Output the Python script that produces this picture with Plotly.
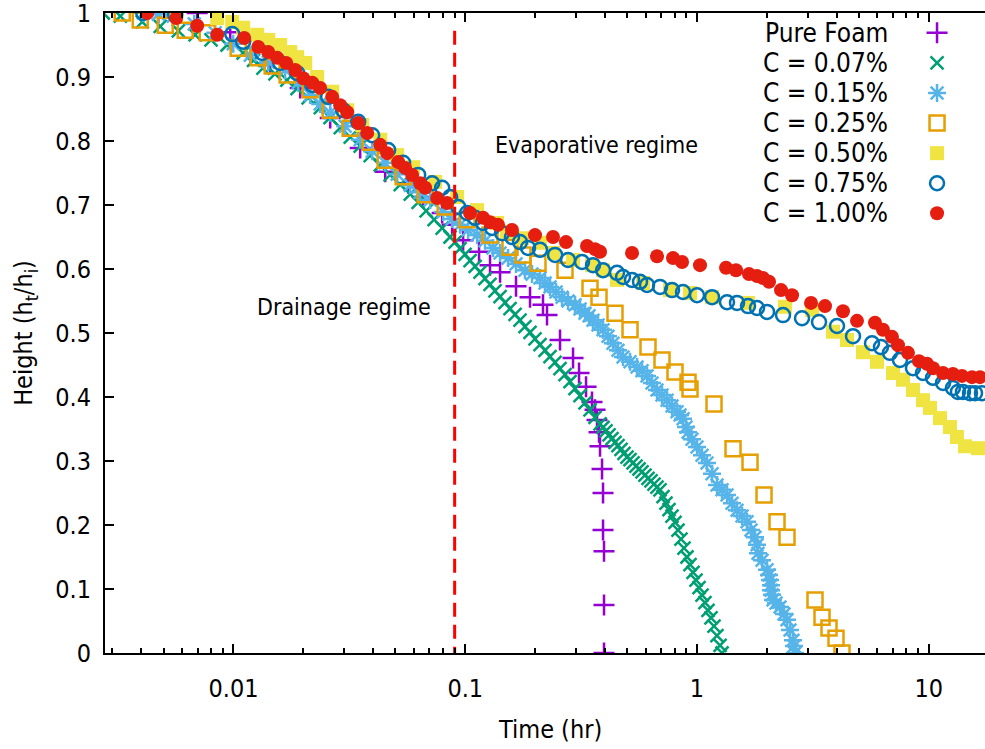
import math
import plotly.graph_objects as go

# ---------------- data (time in hr, height ht/hi) ----------------
pure_t = [0.004735, 0.006974, 0.00968, 0.0144, 0.0194, 0.02614, 0.03521, 0.04514, 0.05671, 0.06582,
          0.0795, 0.0878, 0.0979, 0.1147, 0.1279, 0.1413, 0.1656, 0.1903, 0.2165, 0.2253,
          0.2564, 0.2918, 0.3097, 0.3320, 0.3523, 0.3630, 0.3703, 0.3777, 0.3815, 0.3892,
          0.3930, 0.3930, 0.3969, 0.3969, 0.3969]
pure_h = [1.0, 1.0, 0.970, 0.923, 0.883, 0.836, 0.789, 0.752, 0.734, 0.7125,
          0.6875, 0.669, 0.645, 0.627, 0.606, 0.595, 0.573, 0.556, 0.544, 0.528,
          0.489, 0.461, 0.4375, 0.416, 0.392, 0.380, 0.364, 0.345, 0.323, 0.2875,
          0.250, 0.192, 0.159, 0.075, 0.0]

c007_t = [0.00274, 0.00325, 0.00404, 0.00483, 0.00578, 0.00683, 0.0080, 0.00938, 0.0110, 0.0122,
          0.0134, 0.0151, 0.0170, 0.0188, 0.0210, 0.0237, 0.0261, 0.0289, 0.0319, 0.0352,
          0.0389, 0.0430, 0.0474, 0.0524, 0.0579, 0.0626, 0.0678, 0.0734, 0.0795, 0.0860,
          0.0904, 0.0950, 0.0998, 0.1049, 0.1103, 0.1158, 0.1217, 0.1279, 0.1344, 0.1413,
          0.1485, 0.1560, 0.1640, 0.1723, 0.1811, 0.1903, 0.2000, 0.2102, 0.2209, 0.2321,
          0.2439, 0.2564, 0.2694, 0.2832, 0.2976, 0.3128, 0.3287, 0.3454, 0.3630, 0.3815,
          0.3930, 0.4049, 0.4171, 0.4297, 0.4427, 0.4561, 0.4699, 0.4840, 0.4987, 0.5140,
          0.5294, 0.5454, 0.5619, 0.5789, 0.5964, 0.6144, 0.6330, 0.6521, 0.6718, 0.6924,
          0.7133, 0.7348, 0.7570, 0.7799, 0.8035, 0.8278, 0.8528, 0.8786, 0.9051, 0.9328,
          0.9609, 0.9900, 1.020, 1.051, 1.082, 1.115, 1.149, 1.184, 1.219, 1.257, 1.282]
c007_h = [1.0, 0.995, 0.986, 0.979, 0.972, 0.966, 0.958, 0.950, 0.9375, 0.926,
          0.914, 0.905, 0.895, 0.882, 0.8675, 0.852, 0.8365, 0.821, 0.806, 0.792,
          0.777, 0.7625, 0.747, 0.732, 0.717, 0.704, 0.691, 0.677, 0.664, 0.650,
          0.642, 0.632, 0.623, 0.613, 0.604, 0.595, 0.585, 0.576, 0.566, 0.557,
          0.5475, 0.538, 0.529, 0.520, 0.510, 0.501, 0.491, 0.482, 0.473, 0.463,
          0.454, 0.4445, 0.435, 0.424, 0.413, 0.402, 0.391, 0.380, 0.368, 0.358,
          0.3525, 0.347, 0.341, 0.335, 0.329, 0.324, 0.318, 0.312, 0.306, 0.302,
          0.297, 0.292, 0.2875, 0.283, 0.278, 0.273, 0.269, 0.264, 0.259, 0.255,
          0.2445, 0.234, 0.224, 0.214, 0.204, 0.192, 0.178, 0.164, 0.150, 0.138,
          0.126, 0.114, 0.102, 0.0905, 0.0787, 0.0666, 0.0547, 0.042, 0.027, 0.012, 0.0]

c015_t = [0.00408, 0.004735, 0.005495, 0.006769, 0.00834, 0.00997, 0.01181, 0.01412, 0.01671, 0.01902,
          0.02143, 0.02366, 0.02614, 0.03034, 0.03521, 0.03967, 0.04514, 0.05084, 0.05785, 0.06389,
          0.07056, 0.08028, 0.0878, 0.0950, 0.1029, 0.1125, 0.1217, 0.1318, 0.1413, 0.1530,
          0.1656, 0.1811, 0.1941, 0.2102, 0.2209, 0.2321, 0.2464, 0.2616, 0.2776, 0.2976,
          0.3128, 0.3287, 0.3420, 0.3558, 0.3740, 0.3930, 0.4130, 0.4340, 0.4561, 0.4794,
          0.5140, 0.5510, 0.5790, 0.6085, 0.6395, 0.6720, 0.7063, 0.7423, 0.7801, 0.8198,
          0.8447, 0.8702, 0.8966, 0.9145, 0.9515, 1.0, 1.051, 1.104, 1.161, 1.220,
          1.282, 1.347, 1.416, 1.488, 1.564, 1.643, 1.710, 1.779, 1.815, 1.833,
          1.908, 2.005, 2.045, 2.065, 2.086, 2.086, 2.107, 2.127, 2.192, 2.281,
          2.373, 2.445, 2.519, 2.595, 2.621, 2.647]
c015_h = [1.0, 0.998, 0.995, 0.983, 0.969, 0.952, 0.934, 0.923, 0.911, 0.891,
          0.872, 0.858, 0.844, 0.823, 0.802, 0.784, 0.766, 0.748, 0.731, 0.720,
          0.708, 0.689, 0.678, 0.669, 0.661, 0.653, 0.644, 0.633, 0.625, 0.617,
          0.608, 0.598, 0.592, 0.586, 0.578, 0.572, 0.564, 0.556, 0.550, 0.544,
          0.5375, 0.531, 0.527, 0.520, 0.5125, 0.505, 0.495, 0.484, 0.473, 0.4625,
          0.455, 0.447, 0.441, 0.433, 0.422, 0.411, 0.403, 0.395, 0.386, 0.377,
          0.372, 0.366, 0.353, 0.345, 0.334, 0.322, 0.309, 0.297, 0.280, 0.2625,
          0.255, 0.247, 0.234, 0.223, 0.214, 0.205, 0.192, 0.181, 0.169, 0.156,
          0.145, 0.130, 0.122, 0.114, 0.106, 0.098, 0.091, 0.083, 0.078, 0.072,
          0.061, 0.052, 0.036, 0.020, 0.011, 0.0]

c025_t = [0.003311, 0.00396, 0.005076, 0.006191, 0.007703, 0.01048, 0.01279, 0.01469, 0.01704, 0.02143,
          0.02614, 0.03188, 0.03889, 0.04514, 0.05396, 0.06714, 0.0819, 0.1018, 0.1279, 0.1560,
          0.1775, 0.2060, 0.2694, 0.3454, 0.3777, 0.4427, 0.5140, 0.6145, 0.7063, 0.8036,
          0.9145, 0.9328, 1.184, 1.430, 1.693, 1.946, 2.214, 2.445, 3.229, 3.462,
          3.711, 3.978, 4.222]
c025_h = [1.0, 0.989, 0.981, 0.973, 0.969, 0.945, 0.930, 0.917, 0.903, 0.880,
          0.848, 0.820, 0.798, 0.770, 0.744, 0.716, 0.697, 0.677, 0.653, 0.634,
          0.622, 0.609, 0.598, 0.570, 0.556, 0.531, 0.505, 0.478, 0.458, 0.439,
          0.423, 0.4125, 0.389, 0.319, 0.298, 0.247, 0.205, 0.181, 0.083, 0.056,
          0.039, 0.023, 0.0]

c050_t = [0.005606, 0.008507, 0.009875, 0.01101, 0.01266, 0.01412, 0.0159, 0.01757, 0.01883, 0.02039,
          0.02297, 0.02667, 0.03095, 0.03592, 0.04295, 0.05084, 0.0596, 0.07415, 0.09227, 0.1125,
          0.1371, 0.1515, 0.1758, 0.2102, 0.2391, 0.2918, 0.3523, 0.3930, 0.4516, 0.5847,
          0.7647, 0.9328, 1.161, 1.660, 2.397, 3.135, 3.861, 4.437, 5.202, 5.977,
          7.006, 7.738, 8.547, 9.439, 10.12, 11.18, 12.34, 13.23, 14.32, 16.31]
c050_h = [1.0, 0.992, 0.986, 0.977, 0.966, 0.958, 0.950, 0.939, 0.931, 0.922,
          0.900, 0.877, 0.848, 0.825, 0.802, 0.778, 0.759, 0.736, 0.7125, 0.692,
          0.672, 0.658, 0.648, 0.641, 0.625, 0.614, 0.606, 0.598, 0.583, 0.578,
          0.567, 0.5625, 0.556, 0.547, 0.541, 0.536, 0.502, 0.489, 0.470, 0.455,
          0.4375, 0.427, 0.411, 0.395, 0.383, 0.367, 0.353, 0.3375, 0.323, 0.320]

c075_t = [0.00408, 0.005606, 0.009875, 0.01101, 0.0133, 0.0159, 0.01883, 0.02186, 0.02562, 0.02974,
          0.03452, 0.03967, 0.0465, 0.05396, 0.06263, 0.07198, 0.0795, 0.08607, 0.09319, 0.1018,
          0.1102, 0.1193, 0.1305, 0.1441, 0.1591, 0.1723, 0.1866, 0.2102, 0.2439, 0.2776,
          0.3191, 0.3558, 0.3930, 0.4516, 0.4794, 0.5243, 0.5676, 0.6085, 0.6924, 0.7801,
          0.8702, 1.0, 1.161, 1.347, 1.488, 1.660, 1.815, 2.005, 2.350, 2.838,
          3.360, 4.018, 4.710, 5.688, 6.220, 6.801, 7.511, 8.547, 9.439, 10.43,
          11.52, 12.71, 13.36, 14.04, 15.06, 15.83, 16.96]
c075_h = [1.0, 0.997, 0.967, 0.955, 0.9375, 0.922, 0.906, 0.8875, 0.869, 0.848,
          0.830, 0.809, 0.786, 0.766, 0.747, 0.734, 0.727, 0.7125, 0.697, 0.6875,
          0.680, 0.672, 0.664, 0.656, 0.650, 0.642, 0.633, 0.630, 0.622, 0.614,
          0.611, 0.606, 0.598, 0.594, 0.5875, 0.583, 0.580, 0.575, 0.572, 0.567,
          0.564, 0.559, 0.556, 0.548, 0.547, 0.542, 0.539, 0.533, 0.528, 0.523,
          0.517, 0.511, 0.495, 0.484, 0.478, 0.469, 0.458, 0.445, 0.4375, 0.430,
          0.422, 0.414, 0.408, 0.408, 0.406, 0.406, 0.406]

c100_t = [0.004245, 0.005661, 0.006974, 0.008507, 0.01112, 0.01279, 0.01412, 0.01544, 0.01688, 0.01846,
          0.01999, 0.02186, 0.02366, 0.02667, 0.02887, 0.03095, 0.03452, 0.03775, 0.04295, 0.04604,
          0.05135, 0.05505, 0.05901, 0.06389, 0.06714, 0.07564, 0.08354, 0.1049, 0.1193, 0.1279,
          0.1385, 0.1591, 0.2000, 0.2391, 0.2721, 0.3353, 0.3630, 0.3815, 0.5243, 0.6720,
          0.7878, 0.8617, 1.030, 1.334, 1.473, 1.676, 1.815, 1.926, 2.045, 2.304,
          2.570, 3.104, 3.567, 4.264, 4.901, 5.860, 6.344, 6.938, 7.363, 8.132,
          9.072, 9.822, 10.43, 11.52, 12.71, 13.90, 15.36, 16.63]
c100_h = [1.0, 0.992, 0.980, 0.966, 0.961, 0.947, 0.939, 0.930, 0.922, 0.911,
          0.898, 0.891, 0.883, 0.869, 0.856, 0.845, 0.828, 0.8125, 0.794, 0.781,
          0.767, 0.758, 0.747, 0.734, 0.727, 0.711, 0.703, 0.6875, 0.680, 0.673,
          0.669, 0.661, 0.653, 0.650, 0.642, 0.636, 0.631, 0.627, 0.625, 0.620,
          0.617, 0.611, 0.606, 0.602, 0.598, 0.592, 0.589, 0.586, 0.580, 0.567,
          0.559, 0.547, 0.542, 0.534, 0.519, 0.516, 0.505, 0.494, 0.481, 0.469,
          0.456, 0.452, 0.445, 0.4375, 0.436, 0.433, 0.431, 0.431]

series_names = ["Pure Foam", "C = 0.07%", "C = 0.15%", "C = 0.25%", "C = 0.50%", "C = 0.75%", "C = 1.00%"]
regime_boundary_t = 0.09
x_tick_vals = [0.01, 0.1, 1, 10]
x_tick_text = ["0.01", "0.1", "1", "10"]
y_tick_vals = [0, 0.1, 0.2, 0.3, 0.4, 0.5, 0.6, 0.7, 0.8, 0.9, 1.0]
y_tick_text = ["0", "0.1", "0.2", "0.3", "0.4", "0.5", "0.6", "0.7", "0.8", "0.9", "1"]
x_range_hr = [0.00279, 17.48]

# ---------------- styles ----------------
FONT = "DejaVu Sans Condensed, DejaVu Sans, sans-serif"
styles = [
    dict(symbol="cross-thin", size=15, color="#9400D3", lw=2.5),
    dict(symbol="x-thin", size=13, color="#009E73", lw=2.5),
    dict(symbol="asterisk", size=15, color="#56B4E9", lw=2.5),
    dict(symbol="square-open", size=15, color="#E69F00", lw=2.5),
    dict(symbol="square", size=14, color="#F0E442", lw=0),
    dict(symbol="circle-open", size=14, color="#0072B2", lw=2.5),
    dict(symbol="circle", size=14, color="#E51E10", lw=0),
]
data = [(pure_t, pure_h), (c007_t, c007_h), (c015_t, c015_h), (c025_t, c025_h),
        (c050_t, c050_h), (c075_t, c075_h), (c100_t, c100_h)]

fig = go.Figure()
for (t, h), st, name in zip(data, styles, series_names):
    fig.add_trace(go.Scatter(
        x=t, y=h, mode="markers", name=name, showlegend=False, cliponaxis=True,
        marker=dict(symbol=st["symbol"], size=st["size"], color=st["color"],
                    line=dict(width=st["lw"], color=st["color"])),
    ))

# dashed regime boundary
fig.add_trace(go.Scatter(x=[regime_boundary_t, regime_boundary_t], y=[-0.012, 0.98], mode="lines",
                         showlegend=False, cliponaxis=False,
                         line=dict(color="#FF0000", width=3, dash="14px,8px")))

# key (gnuplot style: text right, symbol at far right)
key_x_text = 0.892
key_x_sym = 0.9455
key_y0 = 0.969
key_dy = 0.047
for i, (st, name) in enumerate(zip(styles, series_names)):
    yk = key_y0 - i * key_dy
    fig.add_trace(go.Scatter(
        x=[key_x_sym], y=[yk], xaxis="x2", yaxis="y2", mode="markers", showlegend=False,
        marker=dict(symbol=st["symbol"], size=st["size"], color=st["color"],
                    line=dict(width=st["lw"], color=st["color"])),
    ))
    fig.add_annotation(x=key_x_text, y=yk, xref="paper", yref="paper", text=name,
                       showarrow=False, xanchor="right", yanchor="middle",
                       font=dict(family=FONT, size=26, color="black"))

fig.add_annotation(x=0.559, y=0.817, xref="paper", yref="paper", text="Evaporative regime",
                   showarrow=False, font=dict(family=FONT, size=23, color="black"))
fig.add_annotation(x=0.170, y=0.541, xref="paper", yref="paper", text="Drainage regime",
                   showarrow=False, font=dict(family=FONT, size=23, color="black"))
# x-axis title
fig.add_annotation(x=0.5057, y=-0.119, xref="paper", yref="paper", text="Time (hr)",
                   showarrow=False, xanchor="center", yanchor="middle",
                   font=dict(family=FONT, size=25, color="black"))

minor_vals = [m * 10 ** e for e in range(-3, 2) for m in range(2, 10)]

fig.update_layout(
    width=985, height=749,
    margin=dict(l=105, r=0, t=13, b=96),
    paper_bgcolor="white", plot_bgcolor="white",
    font=dict(family=FONT, size=22, color="black"),
    xaxis=dict(type="log", range=[math.log10(x_range_hr[0]), math.log10(x_range_hr[1])],
               tickmode="array", tickvals=x_tick_vals, ticktext=x_tick_text,
               ticks="inside", ticklen=9, tickwidth=1.5, tickcolor="black",
               minor=dict(tickmode="array", tickvals=minor_vals, ticks="inside", ticklen=5,
                          tickwidth=1.5, tickcolor="black", showgrid=False),
               showline=True, linecolor="black", linewidth=2, mirror="ticks",
               showgrid=False, zeroline=False, ticklabelstandoff=12,
               tickfont=dict(size=25)),
    yaxis=dict(range=[0, 1], tickmode="array", tickvals=y_tick_vals, ticktext=y_tick_text,
               ticks="inside", ticklen=9, tickwidth=1.5, tickcolor="black",
               showline=True, linecolor="black", linewidth=2, mirror=False,
               showgrid=False, zeroline=False, ticklabelstandoff=7,
               ticklabeloverflow="allow",
               tickfont=dict(size=25),
               title=dict(text="Height (h<sub>t</sub>/h<sub>i</sub>)", font=dict(size=25), standoff=15)),
    xaxis2=dict(overlaying="x", range=[0, 1], visible=False, fixedrange=True),
    yaxis2=dict(overlaying="y", range=[0, 1], visible=False, fixedrange=True),
)

fig.write_html("out.html")
